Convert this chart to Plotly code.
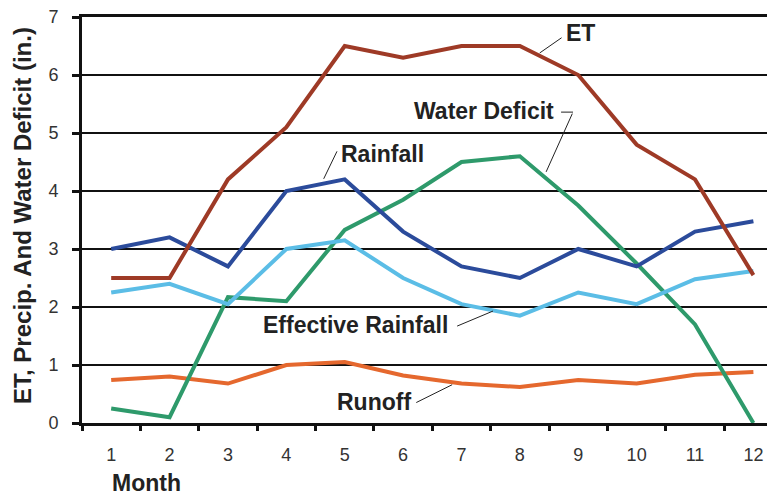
import plotly.graph_objects as go

months = list(range(1, 13))
et = [2.5, 2.5, 4.2, 5.1, 6.5, 6.3, 6.5, 6.5, 6.0, 4.8, 4.2, 2.55]
rainfall = [3.0, 3.2, 2.7, 4.0, 4.2, 3.3, 2.7, 2.5, 3.0, 2.7, 3.3, 3.48]
effective_rainfall = [2.25, 2.4, 2.05, 3.0, 3.15, 2.5, 2.05, 1.85, 2.25, 2.05, 2.48, 2.62]
water_deficit = [0.25, 0.1, 2.17, 2.1, 3.33, 3.85, 4.5, 4.6, 3.75, 2.75, 1.7, 0.0]
runoff = [0.74, 0.8, 0.68, 1.0, 1.05, 0.82, 0.68, 0.62, 0.74, 0.68, 0.83, 0.88]

y_ticks = list(range(0, 8))
x_boundaries = [m - 0.5 for m in months] + [12.5]

FONT = "Liberation Sans, Arial, sans-serif"

series = [
    ("Runoff", runoff, "#E5682E"),
    ("Water Deficit", water_deficit, "#2E9A6B"),
    ("Effective Rainfall", effective_rainfall, "#5BBDE6"),
    ("Rainfall", rainfall, "#2B4B9B"),
    ("ET", et, "#9E3A26"),
]

fig = go.Figure()
for name, vals, col in series:
    fig.add_trace(go.Scatter(x=months, y=vals, mode="lines", name=name,
                             line=dict(color=col, width=4), hoverinfo="skip"))

# invisible trace to activate boundary tick axis
fig.add_trace(go.Scatter(x=[1], y=[0], xaxis="x2", mode="markers",
                         marker=dict(opacity=0), hoverinfo="skip", showlegend=False))

xr = [0.5, 12.37]
fig.update_layout(
    width=775, height=493,
    margin=dict(l=74, r=8, t=9, b=78, autoexpand=False),
    paper_bgcolor="white", plot_bgcolor="white",
    showlegend=False, hovermode=False,
    font=dict(family=FONT, color="#222"),
    xaxis=dict(range=xr, tickvals=months, ticktext=[str(m) for m in months],
               ticks="", showgrid=False, zeroline=False, automargin=False,
               showline=True, linecolor="#111", linewidth=3, mirror=True,
               tickfont=dict(size=18, color="#333"), ticklabelstandoff=13),
    xaxis2=dict(range=xr, overlaying="x", tickvals=x_boundaries, ticks="outside",
                ticklen=7, tickwidth=3, tickcolor="#111", showticklabels=False,
                automargin=False,
                showgrid=False, zeroline=False, showline=False, side="bottom"),
    yaxis=dict(range=[0, 7], tickvals=y_ticks, ticks="outside", ticklen=7,
               tickwidth=3, tickcolor="#111", ticklabeloverflow="allow",
               automargin=False,
               showgrid=True, gridcolor="#111", gridwidth=2, zeroline=False,
               showline=True, linecolor="#111", linewidth=3,
               tickfont=dict(size=18, color="#333"), ticklabelstandoff=10),
)

label_font = dict(family=FONT, size=23, color="#222")
texts = [
    ("ET", 9.03, 6.72),
    ("Water Deficit", 7.38, 5.38),
    ("Rainfall", 5.65, 4.64),
    ("Effective Rainfall", 5.19, 1.69),
    ("Runoff", 5.5, 0.36),
]
for t, x, y in texts:
    fig.add_annotation(x=x, y=y, text="<b>" + t + "</b>", showarrow=False, font=label_font,
                       xanchor="center", yanchor="middle")

leaders = [
    ((8.74, 6.66), (8.34, 6.38)),
    ((8.68, 5.36), (8.91, 5.36)),
    ((8.91, 5.36), (8.45, 4.33)),
    ((4.88, 4.71), (4.64, 4.21)),
    ((6.90, 1.66), (7.54, 1.93)),
    ((6.20, 0.34), (6.84, 0.66)),
]
for (x0, y0), (x1, y1) in leaders:
    fig.add_annotation(x=x1, y=y1, ax=x0, ay=y0, axref="x", ayref="y",
                       text="", showarrow=True, arrowhead=0, arrowwidth=1,
                       arrowcolor="#222", standoff=0, startstandoff=0)

fig.add_annotation(xref="paper", yref="paper", x=(146 - 82) / 693, y=(423 - 483) / 406,
                   text="<b>Month</b>", showarrow=False, font=label_font,
                   xanchor="center", yanchor="middle")
fig.add_annotation(xref="paper", yref="paper", x=(22 - 82) / 693, y=(423 - 216) / 406,
                   text="<b>ET, Precip. And Water Deficit (in.)</b>", showarrow=False,
                   textangle=-90, font=dict(family=FONT, size=24, color="#222"),
                   xanchor="center", yanchor="middle")

fig.write_html("out.html")
